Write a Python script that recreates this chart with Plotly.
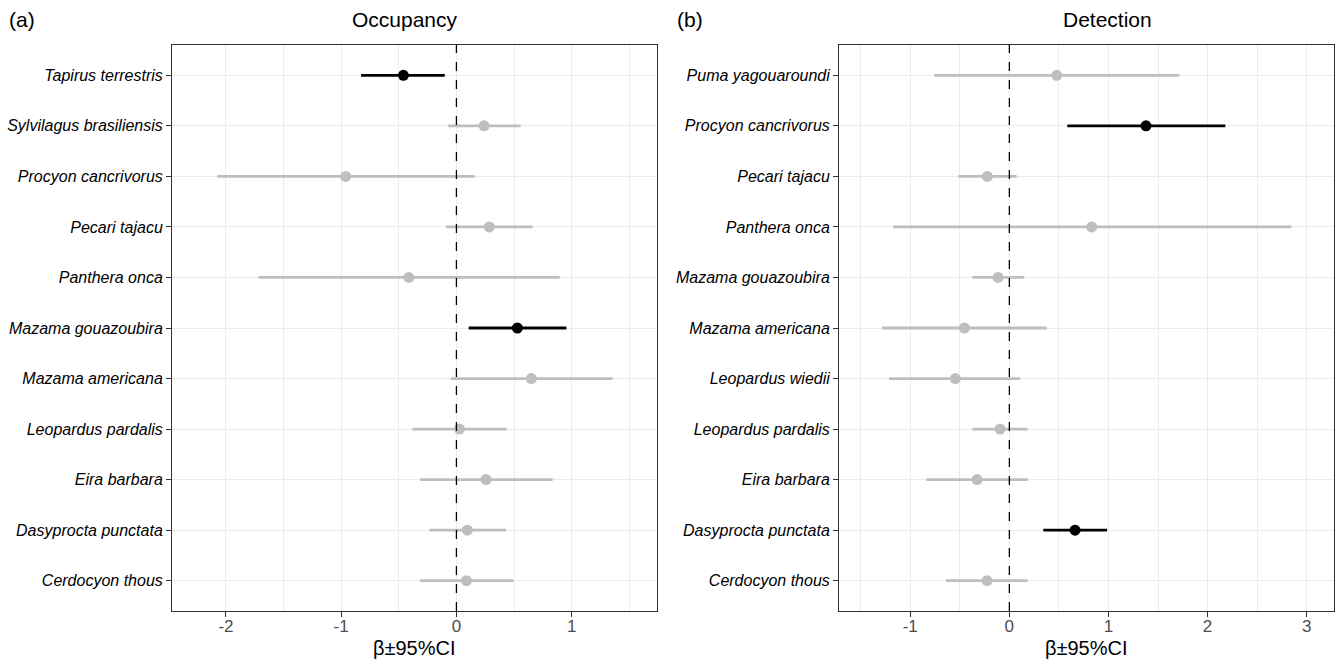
import plotly.graph_objects as go

# ---------- data ----------
occ_species = ["Cerdocyon thous", "Dasyprocta punctata", "Eira barbara", "Leopardus pardalis",
               "Mazama americana", "Mazama gouazoubira", "Panthera onca", "Pecari tajacu",
               "Procyon cancrivorus", "Sylvilagus brasiliensis", "Tapirus terrestris"]
occ_est = [0.087, 0.095, 0.257, 0.026, 0.65, 0.529, -0.413, 0.286, -0.96, 0.24, -0.46]
occ_low = [-0.315, -0.234, -0.315, -0.382, -0.049, 0.107, -1.717, -0.09, -2.075, -0.072, -0.827]
occ_high = [0.494, 0.431, 0.835, 0.436, 1.355, 0.954, 0.896, 0.662, 0.159, 0.558, -0.101]

det_species = ["Cerdocyon thous", "Dasyprocta punctata", "Eira barbara", "Leopardus pardalis",
               "Leopardus wiedii", "Mazama americana", "Mazama gouazoubira", "Panthera onca",
               "Pecari tajacu", "Procyon cancrivorus", "Puma yagouaroundi"]
det_est = [-0.225, 0.663, -0.326, -0.094, -0.545, -0.454, -0.114, 0.831, -0.222, 1.379, 0.478]
det_low = [-0.639, 0.343, -0.838, -0.373, -1.214, -1.285, -0.373, -1.174, -0.515, 0.585, -0.757]
det_high = [0.185, 0.986, 0.185, 0.185, 0.111, 0.377, 0.151, 2.846, 0.074, 2.18, 1.715]

occ_ticks = [-2, -1, 0, 1]
det_ticks = [-1, 0, 1, 2, 3]

panel_titles = ["Occupancy", "Detection"]
panel_tags = ["(a)", "(b)"]
x_title = "β±95%CI"

FONT = "Liberation Sans, Arial, sans-serif"
GREY = "#BEBEBE"
BLACK = "#000000"

W, H = 1337, 659
ML, MR, MT, MB = 172, 3, 45, 48
PW, PH = W - ML - MR, H - MT - MB


def px(xpix):
    return (xpix - ML) / PW


def py(ypix):
    return (H - MB - ypix) / PH


fig = go.Figure()


def add_panel(species, est, low, high, xa, ya):
    sig_idx = [i for i in range(len(est)) if low[i] > 0 or high[i] < 0]
    ns_idx = [i for i in range(len(est)) if i not in sig_idx]
    for idx, col in ((ns_idx, GREY), (sig_idx, BLACK)):
        if not idx:
            continue
        fig.add_trace(go.Scatter(
            x=[est[i] for i in idx],
            y=[species[i] for i in idx],
            mode="markers",
            marker=dict(color=col, size=11, line=dict(width=0)),
            error_x=dict(type="data", symmetric=False,
                         array=[high[i] - est[i] for i in idx],
                         arrayminus=[est[i] - low[i] for i in idx],
                         color=col, thickness=2.8, width=0),
            xaxis=xa, yaxis=ya, showlegend=False, hoverinfo="x+y"))


add_panel(occ_species, occ_est, occ_low, occ_high, "x", "y")
add_panel(det_species, det_est, det_low, det_high, "x2", "y2")

dom_x1 = [0, px(657.3)]
dom_x2 = [px(839), 1]

common_x = dict(
    showgrid=True, gridcolor="#EBEBEB", gridwidth=1.1,
    minor=dict(dtick=0.5, tick0=0, showgrid=True, gridcolor="#EBEBEB", gridwidth=1.1, ticks=""),
    zeroline=False, showline=True, linecolor="#333333", linewidth=1, mirror=True,
    ticks="outside", ticklen=5, tickcolor="#333333", tickwidth=1,
    tickfont=dict(family=FONT, size=17, color="#4D4D4D"),
    ticklabelstandoff=-5,
    automargin=False,
)
common_y = dict(
    type="category", range=[-0.6, 10.6],
    showgrid=True, gridcolor="#EBEBEB", gridwidth=1.1,
    zeroline=False, showline=True, linecolor="#333333", linewidth=1, mirror=True,
    ticks="outside", ticklen=5, tickcolor="#333333", tickwidth=1,
    tickfont=dict(family=FONT, size=16, color="#000000", style="italic"),
    domain=[0, 1], automargin=False,
)

fig.update_layout(
    width=W, height=H,
    margin=dict(l=ML, r=MR, t=MT, b=MB, autoexpand=False),
    paper_bgcolor="white", plot_bgcolor="white",
    font=dict(family=FONT),
    xaxis=dict(common_x, domain=dom_x1, range=[-2.468, 1.743], anchor="y",
               tickmode="array", tickvals=occ_ticks, ticktext=[str(t) for t in occ_ticks]),
    yaxis=dict(common_y, anchor="x", categoryorder="array", categoryarray=occ_species),
    xaxis2=dict(common_x, domain=dom_x2, range=[-1.719, 3.276], anchor="y2",
                tickmode="array", tickvals=det_ticks, ticktext=[str(t) for t in det_ticks]),
    yaxis2=dict(common_y, anchor="x2", categoryorder="array", categoryarray=det_species),
)

for xr in ("x", "x2"):
    fig.add_shape(type="line", xref=xr, yref="paper", x0=0, x1=0,
                  y0=0, y1=1, layer="above",
                  line=dict(color="#000000", width=1.3, dash="dash"))

for title, tx in zip(panel_titles, (404.7, 1107.5)):
    fig.add_annotation(text=title, x=px(tx), y=py(20),
                       xref="paper", yref="paper", showarrow=False,
                       xanchor="center", yanchor="middle",
                       font=dict(family=FONT, size=21, color="#000000"))

for dom in (dom_x1, dom_x2):
    fig.add_annotation(text=x_title, x=(dom[0] + dom[1]) / 2, y=py(648),
                       xref="paper", yref="paper", showarrow=False,
                       xanchor="center", yanchor="middle",
                       font=dict(family=FONT, size=20, color="#000000"))

for tag, xp in zip(panel_tags, (7, 675)):
    fig.add_annotation(text=tag, x=px(xp), y=py(20),
                       xref="paper", yref="paper", showarrow=False,
                       xanchor="left", yanchor="middle",
                       font=dict(family=FONT, size=21, color="#000000"))

fig.write_html("out.html", config={"displayModeBar": False},
               post_script="document.body.style.margin='0';document.body.style.padding='0';")
